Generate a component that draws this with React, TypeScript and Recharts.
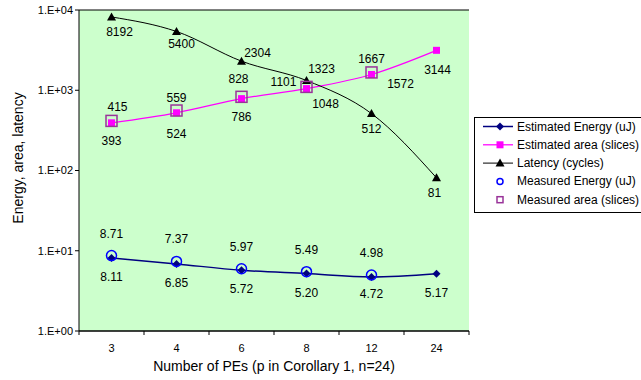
import React from "react";
import {
  ComposedChart,
  Line,
  XAxis,
  YAxis,
  CartesianGrid,
  Legend,
  LabelList,
} from "recharts";

const categories = ["3", "4", "6", "8", "12", "24"];
const estimatedEnergy = [8.11, 6.85, 5.72, 5.2, 4.72, 5.17];
const measuredEnergy: (number | null)[] = [8.71, 7.37, 5.97, 5.49, 4.98, null];
const estimatedArea = [393, 524, 786, 1048, 1572, 3144];
const measuredArea: (number | null)[] = [415, 559, 828, 1101, 1667, null];
const latency = [8192, 5400, 2304, 1323, 512, 81];
const yTicks = [1, 10, 100, 1000, 10000];

const seriesNames = [
  "Estimated Energy (uJ)",
  "Estimated area (slices)",
  "Latency (cycles)",
  "Measured Energy (uJ)",
  "Measured area (slices)",
];
const xTitle = "Number of PEs (p in Corollary 1, n=24)";
const yTitle = "Energy, area, latency";

const data = categories.map((c, i) => ({
  cat: c,
  estE: estimatedEnergy[i],
  measE: measuredEnergy[i],
  estA: estimatedArea[i],
  measA: measuredArea[i],
  lat: latency[i],
}));

const FONT = "'Liberation Sans', Arial, sans-serif";

// label offsets (text centre relative to the point)
const offsets: Record<string, [number, number][]> = {
  lat: [[8, 15], [5, 13], [16, -8], [15, -11], [0, 15], [-2, 15]],
  estA: [[0, 18], [0, 21], [0, 18], [19, 15], [29, 10], [1, 20]],
  measA: [[6, -14], [0, -13], [-3, -18], [-23, -5], [0, -13]],
  estE: [[0, 19], [0, 19], [0, 19], [0, 19], [0, 17], [0, 19]],
  measE: [[0, -22], [0, -22], [0, -22], [0, -22], [0, -22]],
};

const makeLabel = (key: string, decimals: number) => (props: any) => {
  const { x, y, value, index } = props;
  if (value == null || x == null || y == null) return null;
  const off = offsets[key][index] || [0, 0];
  return (
    <text
      x={x + off[0]}
      y={y + off[1]}
      textAnchor="middle"
      dominantBaseline="central"
      fontFamily={FONT}
      fontSize={12}
      fill="#000"
    >
      {Number(value).toFixed(decimals)}
    </text>
  );
};

const Diamond = (props: any) => {
  const { cx, cy } = props;
  if (cx == null || cy == null) return null;
  return (
    <polygon
      points={`${cx},${cy - 4} ${cx + 4},${cy} ${cx},${cy + 4} ${cx - 4},${cy}`}
      fill="#000080"
    />
  );
};
const Square = (props: any) => {
  const { cx, cy } = props;
  if (cx == null || cy == null) return null;
  return <rect x={cx - 3.5} y={cy - 3.5} width={7} height={7} fill="#FF00FF" />;
};
const Triangle = (props: any) => {
  const { cx, cy } = props;
  if (cx == null || cy == null) return null;
  return (
    <polygon
      points={`${cx},${cy - 4.5} ${cx + 4.5},${cy + 3.5} ${cx - 4.5},${cy + 3.5}`}
      fill="#000"
    />
  );
};
const Circle = (props: any) => {
  const { cx, cy, value } = props;
  if (cx == null || cy == null || value == null) return null;
  return <circle cx={cx} cy={cy} r={5} fill="none" stroke="#0000FF" strokeWidth={1.5} />;
};
const BigSquare = (props: any) => {
  const { cx, cy, value } = props;
  if (cx == null || cy == null || value == null) return null;
  return (
    <rect
      x={cx - 5.5}
      y={cy - 5.5}
      width={11}
      height={11}
      fill="none"
      stroke="#993399"
      strokeWidth={1.5}
    />
  );
};

const XTick = (props: any) => {
  const { x, y, payload, index } = props;
  const half = 32.5;
  const axisY = y - 8;
  return (
    <g>
      <line x1={x - half} y1={axisY} x2={x - half} y2={axisY + 4} stroke="#000" />
      {index === categories.length - 1 && (
        <line x1={x + half} y1={axisY} x2={x + half} y2={axisY + 4} stroke="#000" />
      )}
      <text
        x={x}
        y={axisY + 17}
        textAnchor="middle"
        dominantBaseline="central"
        fontFamily={FONT}
        fontSize={11}
        fill="#000"
      >
        {payload.value}
      </text>
    </g>
  );
};

const YTitle = (props: any) => {
  const vb = props.viewBox || { x: 29, y: 10, width: 50, height: 321 };
  const cx = vb.x - 11;
  const cy = vb.y + vb.height / 2 - 12.5;
  return (
    <text
      transform={`translate(${cx},${cy}) rotate(-90)`}
      textAnchor="middle"
      dominantBaseline="central"
      fontFamily={FONT}
      fontSize={14}
      fill="#000"
    >
      {yTitle}
    </text>
  );
};

const XTitle = (props: any) => {
  const vb = props.viewBox || { x: 79, y: 331, width: 390, height: 49 };
  return (
    <text
      x={vb.x + vb.width / 2}
      y={vb.y + 35}
      textAnchor="middle"
      dominantBaseline="central"
      fontFamily={FONT}
      fontSize={14}
      fill="#000"
    >
      {xTitle}
    </text>
  );
};

const fmtY = (v: number) => {
  const e = Math.round(Math.log10(v));
  return "1.E+" + String(e).padStart(2, "0");
};

const LegendBox = () => {
  const rows = [
    (cx: number, cy: number) => (
      <g>
        <line x1={9} y1={cy} x2={39} y2={cy} stroke="#000080" strokeWidth={1.5} />
        <polygon points={`${cx},${cy - 4} ${cx + 4},${cy} ${cx},${cy + 4} ${cx - 4},${cy}`} fill="#000080" />
      </g>
    ),
    (cx: number, cy: number) => (
      <g>
        <line x1={9} y1={cy} x2={39} y2={cy} stroke="#FF00FF" strokeWidth={1.25} />
        <rect x={cx - 3.5} y={cy - 3.5} width={7} height={7} fill="#FF00FF" />
      </g>
    ),
    (cx: number, cy: number) => (
      <g>
        <line x1={9} y1={cy} x2={39} y2={cy} stroke="#000" strokeWidth={1} />
        <polygon points={`${cx},${cy - 4.5} ${cx + 4.5},${cy + 3.5} ${cx - 4.5},${cy + 3.5}`} fill="#000" />
      </g>
    ),
    (cx: number, cy: number) => (
      <circle cx={cx} cy={cy} r={3} fill="none" stroke="#0000FF" strokeWidth={1.5} />
    ),
    (cx: number, cy: number) => (
      <rect x={cx - 3} y={cy - 3} width={6} height={6} fill="none" stroke="#993399" strokeWidth={1.5} />
    ),
  ];
  return (
    <svg width={180} height={97} style={{ display: "block" }}>
      <rect x={0.5} y={0.5} width={200} height={95} fill="#fff" stroke="#000" />
      {seriesNames.map((n, i) => {
        const cy = 9.5 + i * 18.3;
        return (
          <g key={n}>
            {rows[i](26, cy)}
            <text
              x={43}
              y={cy}
              dominantBaseline="central"
              fontFamily={FONT}
              fontSize={12}
              fill="#000"
            >
              {n}
            </text>
          </g>
        );
      })}
    </svg>
  );
};

export default function App() {
  return (
    <div
      style={{
        position: "absolute",
        left: 0,
        top: 0,
        width: 641,
        height: 380,
        overflow: "hidden",
        background: "#fff",
      }}
    >
      <ComposedChart
        width={641}
        height={380}
        data={data}
        margin={{ top: 10, right: 172, bottom: 0, left: 29 }}
      >
        <CartesianGrid vertical={false} stroke="#000" fill="#CCFFCC" fillOpacity={1} />
        <XAxis
          dataKey="cat"
          scale="band"
          stroke="#000"
          tickLine={false}
          tick={<XTick />}
          height={49}
          interval={0}
          label={<XTitle />}
        />
        <YAxis
          yAxisId="left"
          scale="log"
          domain={[1, 10000]}
          ticks={yTicks}
          tickFormatter={fmtY}
          allowDataOverflow
          width={50}
          stroke="#000"
          tickSize={4}
          tick={{ fontFamily: FONT, fontSize: 11, fill: "#000" }}
          label={<YTitle />}
        />
        <YAxis yAxisId="right" orientation="right" width={0} tick={false} stroke="#000" />
        <Legend
          layout="horizontal"
          verticalAlign="middle"
          align="center"
          content={() => <LegendBox />}
          wrapperStyle={{ position: "absolute", left: 474, top: 117, width: 180, height: 97 }}
        />
        <Line
          yAxisId="left"
          name={seriesNames[0]}
          dataKey="estE"
          type="monotone"
          stroke="#000080"
          strokeWidth={1.5}
          dot={<Diamond />}
          activeDot={false}
          isAnimationActive={false}
        >
          <LabelList dataKey="estE" content={makeLabel("estE", 2)} />
        </Line>
        <Line
          yAxisId="left"
          name={seriesNames[1]}
          dataKey="estA"
          type="monotone"
          stroke="#FF00FF"
          strokeWidth={1.25}
          dot={<Square />}
          activeDot={false}
          isAnimationActive={false}
        >
          <LabelList dataKey="estA" content={makeLabel("estA", 0)} />
        </Line>
        <Line
          yAxisId="left"
          name={seriesNames[2]}
          dataKey="lat"
          type="monotone"
          stroke="#000"
          strokeWidth={1}
          dot={<Triangle />}
          activeDot={false}
          isAnimationActive={false}
        >
          <LabelList dataKey="lat" content={makeLabel("lat", 0)} />
        </Line>
        <Line
          yAxisId="left"
          name={seriesNames[3]}
          dataKey="measE"
          stroke="none"
          dot={<Circle />}
          activeDot={false}
          isAnimationActive={false}
        >
          <LabelList dataKey="measE" content={makeLabel("measE", 2)} />
        </Line>
        <Line
          yAxisId="left"
          name={seriesNames[4]}
          dataKey="measA"
          stroke="none"
          dot={<BigSquare />}
          activeDot={false}
          isAnimationActive={false}
        >
          <LabelList dataKey="measA" content={makeLabel("measA", 0)} />
        </Line>
      </ComposedChart>
    </div>
  );
}
